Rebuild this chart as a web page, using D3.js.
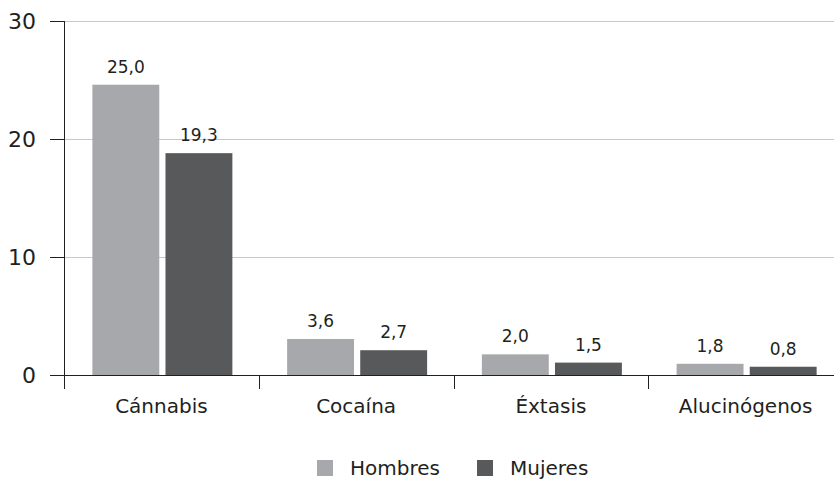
<!DOCTYPE html>
<html>
<head>
<meta charset="utf-8">
<script src="https://cdn.jsdelivr.net/npm/d3@7"></script>
<style>
  html, body { margin: 0; padding: 0; background: #ffffff; }
  svg { display: block; font-family: "DejaVu Sans", sans-serif; }
</style>
</head>
<body>
<svg id="chart" width="834" height="483"></svg>
<script>
const categories = ["Cánnabis", "Cocaína", "Éxtasis", "Alucinógenos"];
const series = ["Hombres", "Mujeres"];
const hombres = [24.6, 3.05, 1.75, 0.95];
const mujeres = [18.8, 2.1, 1.05, 0.7];
const labelsHombres = ["25,0", "3,6", "2,0", "1,8"];
const labelsMujeres = ["19,3", "2,7", "1,5", "0,8"];
const yTicks = [0, 10, 20, 30];
const gridTicks = [10, 20, 30];
const colors = ["#a7a8ab", "#58595b"];

const textColor = "#231f20";
const svg = d3.select("#chart");

const plotLeft = 64, plotRight = 843, plotTop = 21, plotBottom = 375;
const y = d3.scaleLinear().domain([0, 30]).range([plotBottom, plotTop]);
const x0 = d3.scaleBand().domain(categories).range([plotLeft, plotRight]).paddingInner(0).paddingOuter(0);
const groupW = 140;
const x1 = d3.scaleBand().domain(series).range([0, groupW]).paddingInner(0.085).paddingOuter(0);
const color = d3.scaleOrdinal().domain(series).range(colors);

// gridlines
svg.append("g").selectAll("line").data(gridTicks).join("line")
  .attr("x1", plotLeft).attr("x2", 834)
  .attr("y1", d => Math.round(y(d)) + 0.5).attr("y2", d => Math.round(y(d)) + 0.5)
  .attr("stroke", "#c8c8c8").attr("stroke-width", 1);

// bars
const rows = categories.map((c, i) => ({
  cat: c,
  vals: [
    { s: series[0], v: hombres[i], label: labelsHombres[i] },
    { s: series[1], v: mujeres[i], label: labelsMujeres[i] }
  ]
}));

const groups = svg.append("g").selectAll("g").data(rows).join("g")
  .attr("transform", d => `translate(${x0(d.cat) + (x0.bandwidth() - groupW) / 2 + 1},0)`);

groups.selectAll("rect").data(d => d.vals).join("rect")
  .attr("x", d => x1(d.s))
  .attr("width", x1.bandwidth())
  .attr("y", d => y(d.v))
  .attr("height", d => y(0) - y(d.v))
  .attr("fill", d => color(d.s));

groups.selectAll("text").data(d => d.vals).join("text")
  .attr("x", d => x1(d.s) + x1.bandwidth() / 2)
  .attr("y", d => y(d.v) - 12)
  .attr("text-anchor", "middle")
  .attr("font-size", 17)
  .attr("fill", textColor)
  .text(d => d.label);

// y axis
const yAxis = svg.append("g")
  .attr("transform", `translate(${plotLeft},0)`)
  .call(d3.axisLeft(y).tickValues(yTicks).tickSize(14).tickPadding(14).tickFormat(d3.format("d")));
yAxis.select(".domain").remove();
yAxis.selectAll(".tick line").attr("stroke", textColor);
yAxis.selectAll(".tick text").attr("font-size", 22).attr("fill", textColor)
  .style("font-family", "DejaVu Sans, sans-serif");
svg.append("line")
  .attr("x1", plotLeft + 0.5).attr("x2", plotLeft + 0.5)
  .attr("y1", plotTop).attr("y2", plotBottom + 14)
  .attr("stroke", textColor);

// x axis
const xAxis = svg.append("g")
  .attr("transform", `translate(0,${plotBottom})`)
  .call(d3.axisBottom(x0).tickSize(0).tickPadding(24));
xAxis.select(".domain").remove();
xAxis.selectAll(".tick text").attr("font-size", 20).attr("fill", textColor)
  .style("font-family", "DejaVu Sans, sans-serif");
svg.append("line")
  .attr("x1", plotLeft).attr("x2", 834)
  .attr("y1", plotBottom + 0.5).attr("y2", plotBottom + 0.5)
  .attr("stroke", textColor);
svg.append("g").selectAll("line").data(categories.slice(1)).join("line")
  .attr("x1", d => Math.round(x0(d)) + 0.5).attr("x2", d => Math.round(x0(d)) + 0.5)
  .attr("y1", plotBottom).attr("y2", plotBottom + 14)
  .attr("stroke", textColor);

// legend
const legendX = [317, 477];
const legend = svg.append("g").selectAll("g").data(series).join("g")
  .attr("transform", (d, i) => `translate(${legendX[i]},460)`);
legend.append("rect").attr("width", 16).attr("height", 16).attr("fill", d => color(d));
legend.append("text").attr("x", 33).attr("y", 15)
  .attr("font-size", 20).attr("fill", textColor).text(d => d);
</script>
</body>
</html>
